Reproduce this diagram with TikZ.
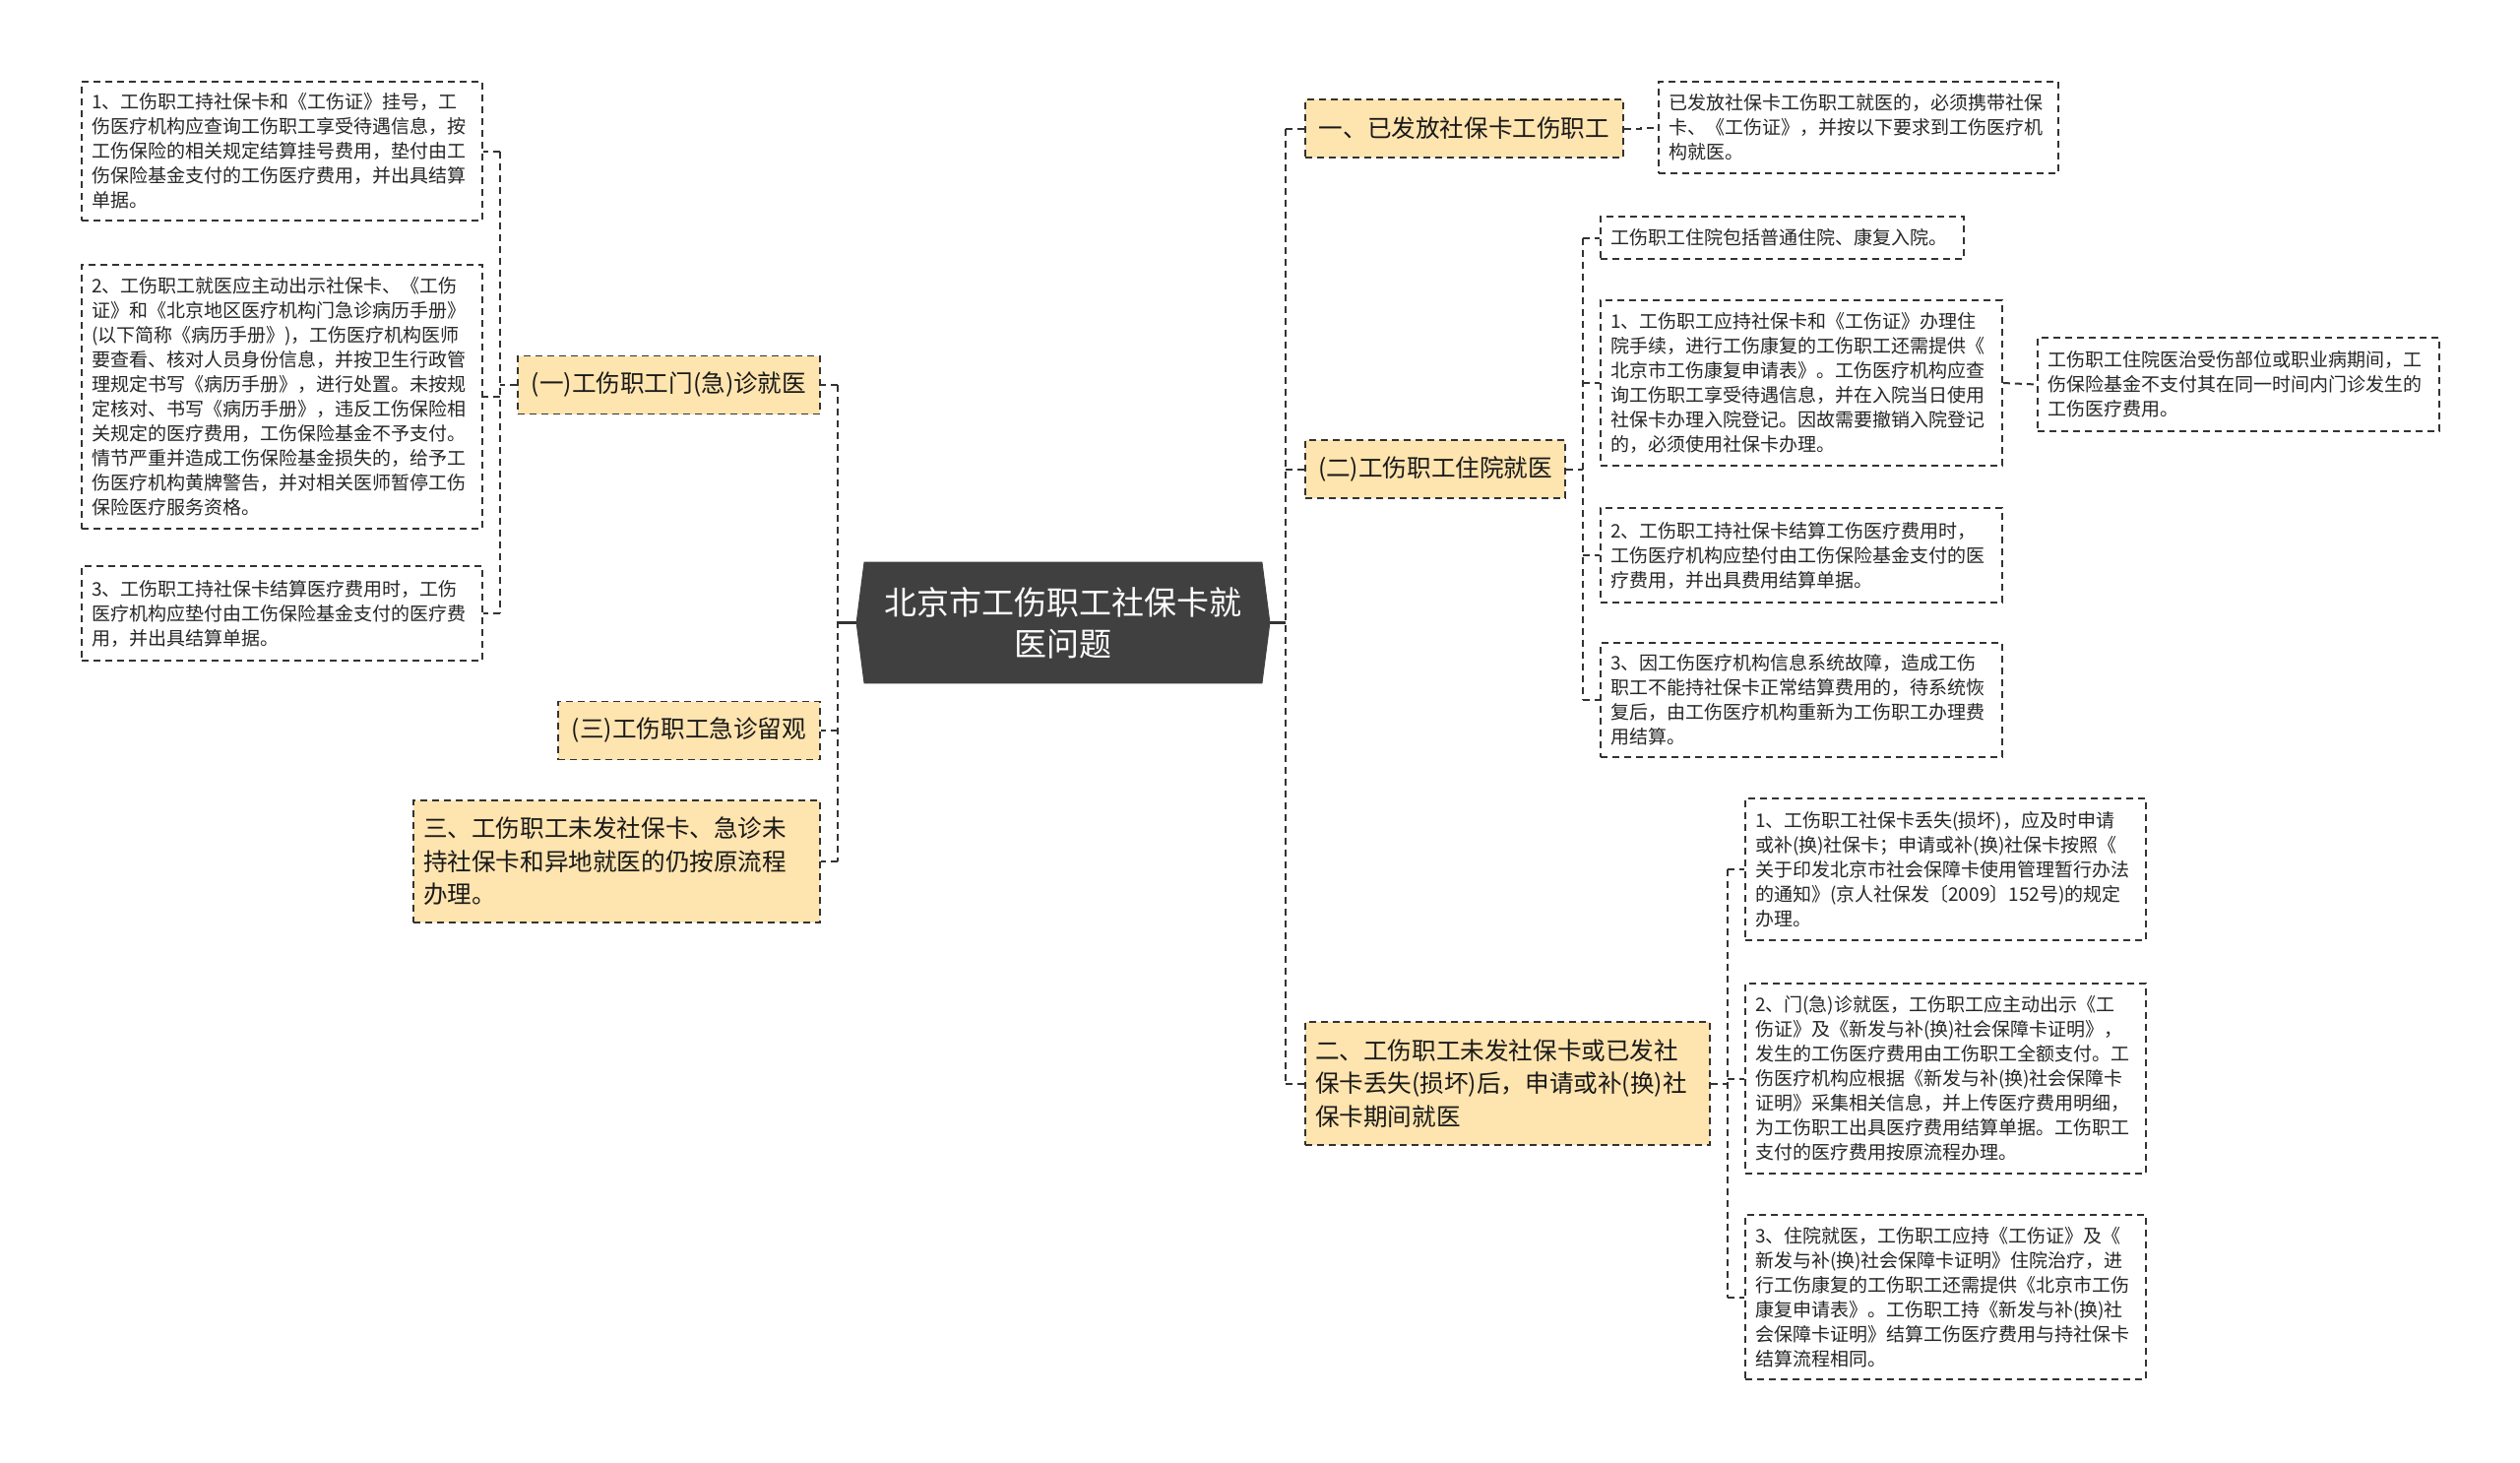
\documentclass[tikz,border=0pt]{standalone}
\usepackage{fontspec}
\setmainfont{Noto Sans CJK SC}
\usetikzlibrary{backgrounds}
\definecolor{ybg}{HTML}{FEE4AE}
\definecolor{lc}{HTML}{333333}
\definecolor{cbg}{HTML}{404040}
\tikzset{
  conn/.style={draw=lc, line width=1pt, dash pattern=on 3.5pt off 2.5pt},
  stub/.style={draw=lc, line width=1.6pt},
  dbox/.style={draw=lc, line width=0.9pt, dash pattern=on 3.5pt off 2.5pt, fill=white,
    inner xsep=5pt, inner ysep=3pt, align=left, text=black!85,
    font=\fontsize{9.5pt}{12.5pt}\selectfont},
  ybox/.style={dbox, fill=ybg, text=black!90, font=\fontsize{12.3pt}{16.75pt}\selectfont},
  ysingle/.style={ybox, align=center, minimum height=29.5pt},
}
\begin{document}
\begin{tikzpicture}[x=0.5pt,y=-0.5pt]
\useasboundingbox (0,0) rectangle (2560,1485);

% central node
\node[font=\fontsize{16.5pt}{21pt}\selectfont, text=white, align=center,
  minimum width=202pt, minimum height=61.5pt, inner sep=0pt] (c) at (1080,632.5)
  {北京市工伤职工社保卡就\\医问题};
\begin{scope}[on background layer]
\fill[white] (0,0) rectangle (2560,1485);
\fill[cbg] (c.north west) -- (c.north east) -- ([xshift=4pt]c.east) -- (c.south east)
  -- (c.south west) -- ([xshift=-4pt]c.west) -- cycle;
\end{scope}
\coordinate (cw) at ([xshift=-4pt]c.west);
\coordinate (ce) at ([xshift=4pt]c.east);

% ---------- left side ----------
\node[ysingle, minimum width=153.5pt] (a1) at (679.5,391) {(一)工伤职工门(急)诊就医};
\node[ysingle, minimum width=133pt] (a3) at (700,742) {(三)工伤职工急诊留观};
\node[ybox, text width=196.5pt, minimum height=62pt] (a4) at (626.5,875)
  {三、工伤职工未发社保卡、急诊未\\持社保卡和异地就医的仍按原流程\\办理。};

\node[dbox, text width=193.5pt, minimum height=70.5pt] (l1) at (286.5,153.5)
  {1、工伤职工持社保卡和《工伤证》挂号，工\\伤医疗机构应查询工伤职工享受待遇信息，按\\工伤保险的相关规定结算挂号费用，垫付由工\\伤保险基金支付的工伤医疗费用，并出具结算\\单据。};
\node[dbox, text width=193.5pt, minimum height=134pt] (l2) at (286.5,403)
  {2、工伤职工就医应主动出示社保卡、《工伤\\证》和《北京地区医疗机构门急诊病历手册》\\(以下简称《病历手册》)，工伤医疗机构医师\\要查看、核对人员身份信息，并按卫生行政管\\理规定书写《病历手册》，进行处置。未按规\\定核对、书写《病历手册》，违反工伤保险相\\关规定的医疗费用，工伤保险基金不予支付。\\情节严重并造成工伤保险基金损失的，给予工\\伤医疗机构黄牌警告，并对相关医师暂停工伤\\保险医疗服务资格。};
\node[dbox, text width=193.5pt, minimum height=48pt] (l3) at (286.5,623)
  {3、工伤职工持社保卡结算医疗费用时，工伤\\医疗机构应垫付由工伤保险基金支付的医疗费\\用，并出具结算单据。};

% ---------- right side ----------
\node[ysingle, minimum width=161.5pt] (b1) at (1487.5,130.5) {一、已发放社保卡工伤职工};
\node[ysingle, minimum width=132pt] (b2) at (1458,476.5) {(二)工伤职工住院就医};
\node[ybox, text width=195.5pt, minimum height=62.5pt] (b3) at (1531.5,1100.5)
  {二、工伤职工未发社保卡或已发社\\保卡丢失(损坏)后，申请或补(换)社\\保卡期间就医};

\node[dbox, text width=193pt, minimum height=46.5pt] (r1) at (1888,129.5)
  {已发放社保卡工伤职工就医的，必须携带社保\\卡、《工伤证》，并按以下要求到工伤医疗机\\构就医。};

\node[dbox, text width=174.5pt, minimum height=21.5pt] (r2a) at (1810.5,241.5)
  {工伤职工住院包括普通住院、康复入院。};
\node[dbox, text width=194pt, minimum height=84pt] (r2b) at (1830,389)
  {1、工伤职工应持社保卡和《工伤证》办理住\\院手续，进行工伤康复的工伤职工还需提供《\\北京市工伤康复申请表》。工伤医疗机构应查\\询工伤职工享受待遇信息，并在入院当日使用\\社保卡办理入院登记。因故需要撤销入院登记\\的，必须使用社保卡办理。};
\node[dbox, text width=194pt, minimum height=47.5pt] (r2e) at (2274,390.5)
  {工伤职工住院医治受伤部位或职业病期间，工\\伤保险基金不支付其在同一时间内门诊发生的\\工伤医疗费用。};
\node[dbox, text width=194pt, minimum height=48pt] (r2c) at (1830,564)
  {2、工伤职工持社保卡结算工伤医疗费用时，\\工伤医疗机构应垫付由工伤保险基金支付的医\\疗费用，并出具费用结算单据。};
\node[dbox, text width=194pt, minimum height=58pt] (r2d) at (1830,711)
  {3、因工伤医疗机构信息系统故障，造成工伤\\职工不能持社保卡正常结算费用的，待系统恢\\复后，由工伤医疗机构重新为工伤职工办理费\\用结算。};

\node[dbox, text width=193.5pt, minimum height=72pt] (r3a) at (1976.5,883)
  {1、工伤职工社保卡丢失(损坏)，应及时申请\\或补(换)社保卡；申请或补(换)社保卡按照《\\关于印发北京市社会保障卡使用管理暂行办法\\的通知》(京人社保发〔2009〕152号)的规定\\办理。};
\node[dbox, text width=193.5pt, minimum height=96.5pt] (r3b) at (1976.5,1095.5)
  {2、门(急)诊就医，工伤职工应主动出示《工\\伤证》及《新发与补(换)社会保障卡证明》，\\发生的工伤医疗费用由工伤职工全额支付。工\\伤医疗机构应根据《新发与补(换)社会保障卡\\证明》采集相关信息，并上传医疗费用明细，\\为工伤职工出具医疗费用结算单据。工伤职工\\支付的医疗费用按原流程办理。};
\node[dbox, text width=193.5pt, minimum height=83.5pt] (r3c) at (1976.5,1317.5)
  {3、住院就医，工伤职工应持《工伤证》及《\\新发与补(换)社会保障卡证明》住院治疗，进\\行工伤康复的工伤职工还需提供《北京市工伤\\康复申请表》。工伤职工持《新发与补(换)社\\会保障卡证明》结算工伤医疗费用与持社保卡\\结算流程相同。};

% ---------- connectors ----------
% central left
\coordinate (sl) at (851,632.5);
\draw[stub] (cw) -- (sl);
\draw[conn] (sl |- a1.east) -- (sl |- a4.east);
\draw[conn] (sl |- a1.east) -- (a1.east);
\draw[conn] (sl |- a3.east) -- (a3.east);
\draw[conn] (sl |- a4.east) -- (a4.east);
% central right
\coordinate (sr) at (1306,632.5);
\draw[stub] (ce) -- (sr);
\draw[conn] (sr |- b1.west) -- (sr |- b3.west);
\draw[conn] (sr |- b1.west) -- (b1.west);
\draw[conn] (sr |- b2.west) -- (b2.west);
\draw[conn] (sr |- b3.west) -- (b3.west);
% (一) group
\coordinate (sa) at (508,391);
\draw[conn] (a1.west) -- (sa);
\draw[conn] (sa |- l1.east) -- (sa |- l3.east);
\draw[conn] (sa |- l1.east) -- (l1.east);
\draw[conn] (sa |- l2.east) -- (l2.east);
\draw[conn] (sa |- l3.east) -- (l3.east);
% 一 group
\coordinate (sb) at (1667,130.5);
\draw[conn] (b1.east) -- (sb) |- (r1.west);
% (二) group
\coordinate (sc) at (1608,476.5);
\draw[conn] (b2.east) -- (sc);
\draw[conn] (sc |- r2a.west) -- (sc |- r2d.west);
\draw[conn] (sc |- r2a.west) -- (r2a.west);
\draw[conn] (sc |- r2b.west) -- (r2b.west);
\draw[conn] (sc |- r2c.west) -- (r2c.west);
\draw[conn] (sc |- r2d.west) -- (r2d.west);
\draw[conn] (r2b.east) -- (r2e.west);
% 二 group
\coordinate (sd) at (1755,1100.5);
\draw[conn] (b3.east) -- (sd);
\draw[conn] (sd |- r3a.west) -- (sd |- r3c.west);
\draw[conn] (sd |- r3a.west) -- (r3a.west);
\draw[conn] (sd |- r3b.west) -- (r3b.west);
\draw[conn] (sd |- r3c.west) -- (r3c.west);
\end{tikzpicture}
\end{document}
